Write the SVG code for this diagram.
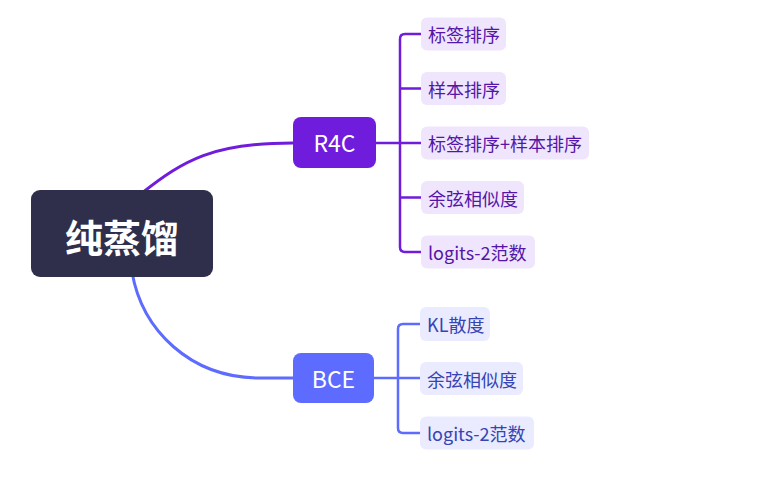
<svg xmlns="http://www.w3.org/2000/svg" width="772" height="480" viewBox="0 0 772 480">
<style>
.t{font-family:"Noto Sans CJK SC","Noto Sans",sans-serif;dominant-baseline:central;text-anchor:middle}
.root{fill:#2f2f4b}
.rt{fill:#ffffff;font-size:38px;font-weight:bold}
.m1{fill:#701cdc}
.m2{fill:#5d6bfe}
.mt{fill:#ffffff;font-size:23px}
.c1{fill:#efe5fc}
.c2{fill:#eaebfe}
.ct1{fill:#5516a8;font-size:18px;text-anchor:start}
.ct2{fill:#3644b4;font-size:18px;text-anchor:start}
.l1{fill:none;stroke:#701cdc}
.l2{fill:none;stroke:#5d6bfe}
</style>
<rect width="772" height="480" fill="#ffffff"/>
<g id="connectors">
<path class="l1" stroke-width="3" d="M142,193 C184,160 213,143 293,143"/>
<path class="l2" stroke-width="3" d="M132,272 C142,330 190,378 260,378 L293,378"/>
<path class="l1" stroke-width="2.5" d="M376,143 H421 M421,34 H405 Q400,34 400,39 V247 Q400,252 405,252 H421 M400,88.5 H421 M400,197.5 H421"/>
<path class="l2" stroke-width="2.5" d="M374,378 H420 M420,324 H403 Q398,324 398,329 V428 Q398,433 403,433 H420"/>
</g>
<g id="root">
<rect class="root" x="31" y="190" width="182" height="87" rx="9"/>
<text class="t rt" x="122" y="235">纯蒸馏</text>
</g>
<g id="r4c">
<rect class="m1" x="293" y="117" width="83" height="51" rx="8"/>
<text class="t mt" x="334.5" y="142">R4C</text>
</g>
<g id="bce">
<rect class="m2" x="293" y="353" width="81" height="50" rx="8"/>
<text class="t mt" x="333.5" y="377.5">BCE</text>
</g>
<g id="r4c-1">
<rect class="c1" x="421" y="17.5" width="85" height="33" rx="6"/>
<text class="t ct1" x="428" y="34">标签排序</text>
</g>
<g id="r4c-2">
<rect class="c1" x="421" y="72" width="85" height="33" rx="6"/>
<text class="t ct1" x="428" y="88.5">样本排序</text>
</g>
<g id="r4c-3">
<rect class="c1" x="421" y="126.5" width="168" height="33" rx="6"/>
<text class="t ct1" x="428" y="143">标签排序+样本排序</text>
</g>
<g id="r4c-4">
<rect class="c1" x="421" y="181" width="103" height="33" rx="6"/>
<text class="t ct1" x="428" y="197.5">余弦相似度</text>
</g>
<g id="r4c-5">
<rect class="c1" x="421" y="235.5" width="114" height="33" rx="6"/>
<text class="t ct1" x="428" y="252">logits-2范数</text>
</g>
<g id="bce-1">
<rect class="c2" x="420" y="307" width="70" height="34" rx="6"/>
<text class="t ct2" x="427" y="324">KL散度</text>
</g>
<g id="bce-2">
<rect class="c2" x="420" y="362" width="103" height="33" rx="6"/>
<text class="t ct2" x="427" y="378.5">余弦相似度</text>
</g>
<g id="bce-3">
<rect class="c2" x="420" y="416.5" width="114" height="33" rx="6"/>
<text class="t ct2" x="427" y="433">logits-2范数</text>
</g>
</svg>
